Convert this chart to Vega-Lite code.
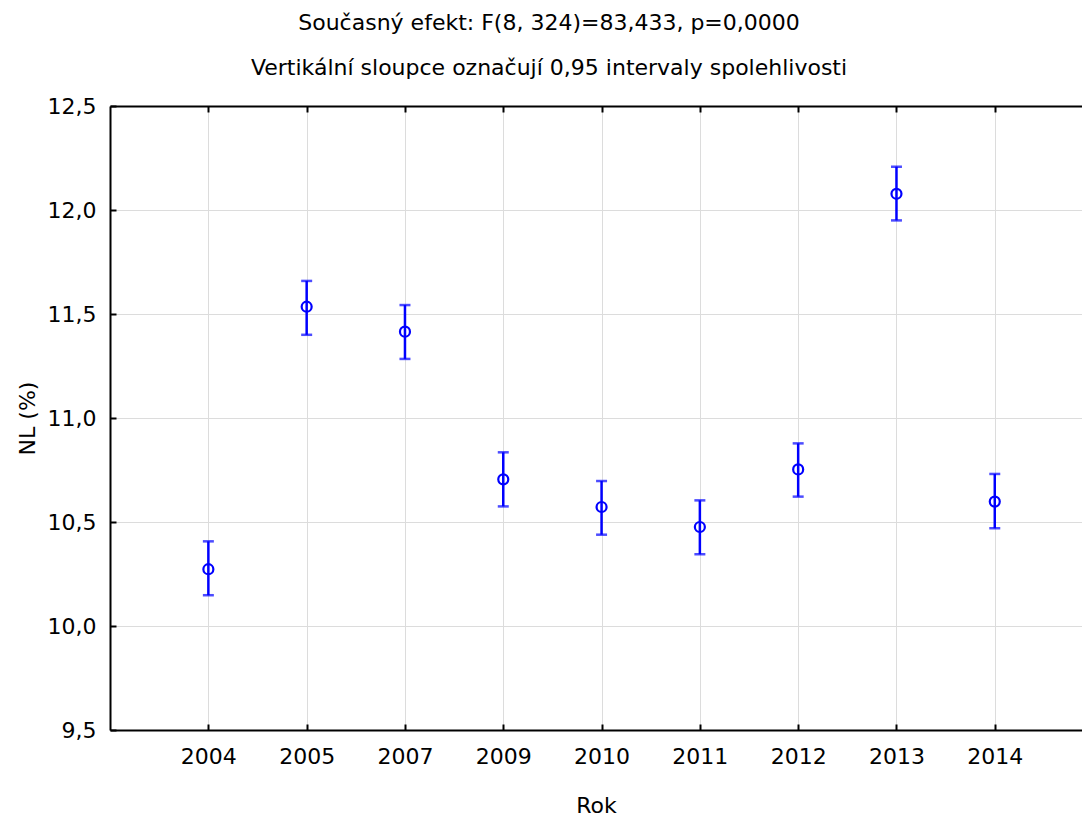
{
  "$schema": "https://vega.github.io/schema/vega-lite/v6.json",
  "width": 972,
  "height": 624,
  "autosize": {"type": "none"},
  "padding": {"left": 110, "top": 106, "right": 0, "bottom": 88},
  "background": "white",
  "title": {
    "text": "Současný efekt: F(8, 324)=83,433, p=0,0000",
    "subtitle": "Vertikální sloupce označují 0,95 intervaly spolehlivosti",
    "anchor": "middle",
    "frame": "bounds",
    "font": "DejaVu Sans",
    "fontSize": 22,
    "fontWeight": "normal",
    "color": "black",
    "subtitleFont": "DejaVu Sans",
    "subtitleFontSize": 22,
    "subtitleColor": "black",
    "subtitlePadding": 23,
    "offset": 15
  },
  "config": {
    "view": {"stroke": null},
    "axis": {
      "labelFont": "DejaVu Sans",
      "labelFontSize": 22,
      "labelColor": "black",
      "titleFont": "DejaVu Sans",
      "titleFontSize": 22,
      "titleFontWeight": "normal",
      "titleColor": "black",
      "domainColor": "black",
      "domainWidth": 2,
      "tickColor": "black",
      "tickWidth": 2,
      "gridColor": "#dcdcdc",
      "gridWidth": 1
    }
  },
  "resolve": {"axis": {"x": "independent"}},
  "data": {
    "values": [
      {"Rok": "2004", "NL": 10.273, "lo": 10.148, "hi": 10.407},
      {"Rok": "2005", "NL": 11.535, "lo": 11.400, "hi": 11.659},
      {"Rok": "2007", "NL": 11.415, "lo": 11.284, "hi": 11.543},
      {"Rok": "2009", "NL": 10.705, "lo": 10.575, "hi": 10.835},
      {"Rok": "2010", "NL": 10.572, "lo": 10.439, "hi": 10.697},
      {"Rok": "2011", "NL": 10.476, "lo": 10.345, "hi": 10.604},
      {"Rok": "2012", "NL": 10.753, "lo": 10.622, "hi": 10.878},
      {"Rok": "2013", "NL": 12.078, "lo": 11.950, "hi": 12.208},
      {"Rok": "2014", "NL": 10.598, "lo": 10.470, "hi": 10.731}
    ]
  },
  "layer": [
    {
      "mark": {"type": "rule", "color": "#0000ff", "strokeWidth": 2.5},
      "encoding": {
        "x": {
          "field": "Rok",
          "type": "ordinal",
          "sort": null,
          "scale": {"type": "point", "padding": 0.944, "align": 0.53},
          "axis": {
            "orient": "bottom",
            "title": "Rok",
            "labelAngle": 0,
            "grid": true,
            "tickSize": -6,
            "labelPadding": 22,
            "titlePadding": 28
          }
        },
        "y": {
          "field": "lo",
          "type": "quantitative",
          "scale": {"domain": [9.5, 12.5], "nice": false, "zero": false},
          "axis": {
            "title": "NL (%)",
            "values": [9.5, 10, 10.5, 11, 11.5, 12, 12.5],
            "labelExpr": "replace(format(datum.value, '.1f'), '.', ',')",
            "grid": true,
            "tickSize": -6,
            "labelPadding": 20,
            "titlePadding": 8
          }
        },
        "y2": {"field": "hi"}
      }
    },
    {
      "mark": {"type": "tick", "color": "#0000ff", "thickness": 2.5, "size": 11},
      "encoding": {
        "x": {"field": "Rok", "type": "ordinal", "sort": null, "axis": {"orient": "top", "labels": false, "title": null, "grid": false, "tickSize": -6, "domainWidth": 2}},
        "y": {"field": "lo", "type": "quantitative"}
      }
    },
    {
      "mark": {"type": "tick", "color": "#0000ff", "thickness": 2.5, "size": 11},
      "encoding": {
        "x": {"field": "Rok", "type": "ordinal", "sort": null, "axis": null},
        "y": {"field": "hi", "type": "quantitative"}
      }
    },
    {
      "mark": {"type": "point", "shape": "circle", "filled": false, "color": "#0000ff", "strokeWidth": 2.2, "size": 100, "opacity": 1},
      "encoding": {
        "x": {"field": "Rok", "type": "ordinal", "sort": null, "axis": null},
        "y": {"field": "NL", "type": "quantitative"}
      }
    }
  ]
}
